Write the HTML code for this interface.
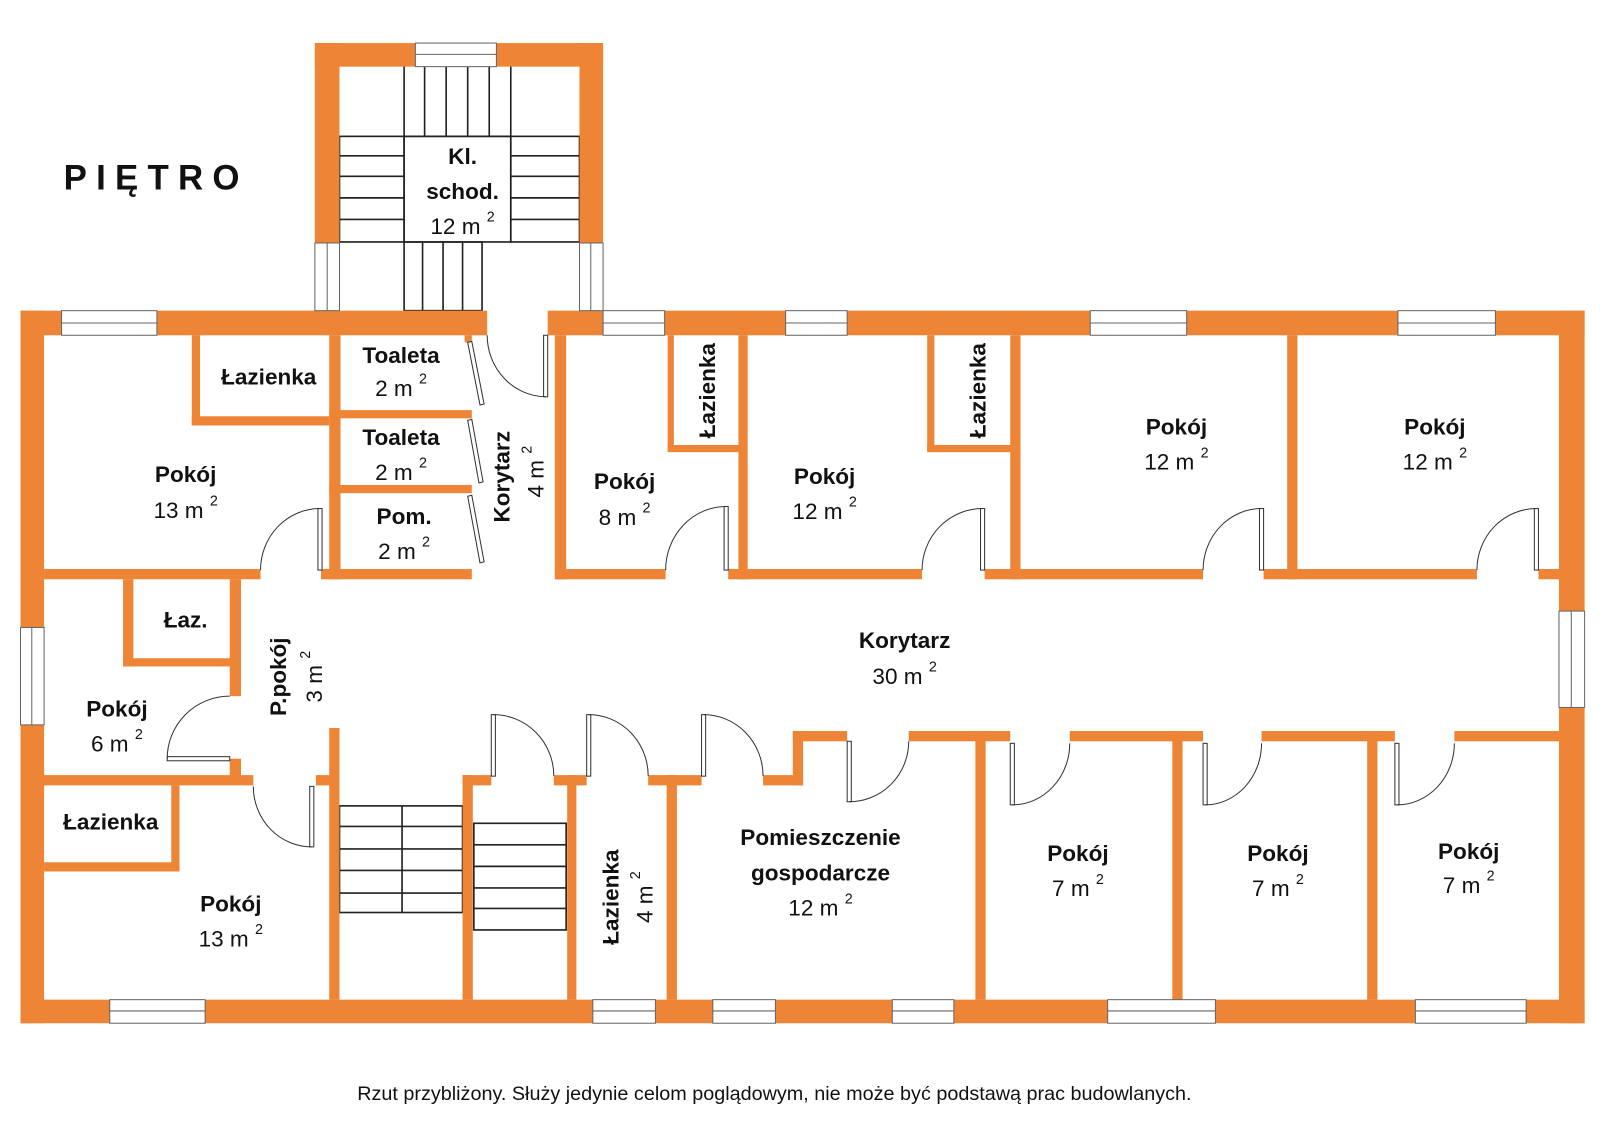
<!DOCTYPE html>
<html><head><meta charset="utf-8"><style>
html,body{margin:0;padding:0;background:#fff;}
svg{display:block;}
text{font-family:"Liberation Sans",Arial,sans-serif;fill:#111;}
.b{font-weight:bold;font-size:22px;}
.r{font-size:22px;}
.s{font-size:14px;}
.w{fill:#EE8435;}
.win{fill:#fff;stroke:#666;stroke-width:1;}
.leaf{fill:#fff;stroke:#333;stroke-width:1;}
.arc{fill:none;stroke:#333;stroke-width:1;}
.st{stroke:#222;stroke-width:1.6;fill:none;}
</style></head><body>
<svg width="1600" height="1135" viewBox="0 0 1560 1107" preserveAspectRatio="none" xmlns="http://www.w3.org/2000/svg">
<rect width="1560" height="1107" fill="#fff"/>
<g class="st">
<rect x="394" y="64" width="104" height="69"/>
<line x1="414" y1="64" x2="414" y2="133"/><line x1="435" y1="64" x2="435" y2="133"/><line x1="456" y1="64" x2="456" y2="133"/><line x1="477" y1="64" x2="477" y2="133"/>
<rect x="394" y="133" width="104" height="103"/>
<rect x="331" y="133" width="63" height="103"/>
<line x1="331" y1="152" x2="394" y2="152"/><line x1="331" y1="172" x2="394" y2="172"/><line x1="331" y1="193" x2="394" y2="193"/><line x1="331" y1="214" x2="394" y2="214"/>
<rect x="498" y="133" width="67" height="103"/>
<line x1="498" y1="152" x2="565" y2="152"/><line x1="498" y1="172" x2="565" y2="172"/><line x1="498" y1="193" x2="565" y2="193"/><line x1="498" y1="214" x2="565" y2="214"/>
<rect x="394" y="236" width="76" height="67"/>
<line x1="412" y1="236" x2="412" y2="303"/><line x1="432" y1="236" x2="432" y2="303"/><line x1="451" y1="236" x2="451" y2="303"/>
<rect x="331" y="786" width="120" height="104"/>
<line x1="392" y1="786" x2="392" y2="890"/>
<line x1="331" y1="806" x2="451" y2="806"/><line x1="331" y1="828" x2="451" y2="828"/><line x1="331" y1="849" x2="451" y2="849"/><line x1="331" y1="871" x2="451" y2="871"/>
<rect x="462" y="803" width="90" height="104"/>
<line x1="462" y1="824" x2="552" y2="824"/><line x1="462" y1="845" x2="552" y2="845"/><line x1="462" y1="866" x2="552" y2="866"/><line x1="462" y1="886" x2="552" y2="886"/>
</g>
<g class="w">
<rect x="307" y="42" width="24" height="195"/><rect x="565" y="42" width="23" height="195"/><rect x="307" y="42" width="281" height="23"/>
<rect x="20" y="303" width="455" height="24"/><rect x="534" y="303" width="1011" height="24"/>
<rect x="20" y="303" width="23" height="695"/><rect x="1520" y="303" width="25" height="695"/>
<rect x="20" y="975" width="1525" height="23"/>
<rect x="187" y="327" width="8" height="88"/><rect x="187" y="406" width="134" height="9"/>
<rect x="321" y="327" width="11" height="238"/>
<rect x="43" y="555" width="211" height="10"/><rect x="313" y="555" width="147" height="10"/>
<rect x="321" y="400" width="139" height="8"/><rect x="321" y="473" width="139" height="8"/>
<rect x="453" y="327" width="7" height="7"/>
<rect x="541" y="327" width="11" height="238"/>
<rect x="541" y="555" width="108" height="10"/><rect x="710" y="555" width="189" height="10"/><rect x="960" y="555" width="213" height="10"/><rect x="1232" y="555" width="208" height="10"/><rect x="1500" y="555" width="20" height="10"/>
<rect x="720" y="327" width="9" height="238"/>
<rect x="651" y="327" width="6" height="113"/><rect x="651" y="434" width="75" height="7"/>
<rect x="904" y="327" width="7" height="113"/><rect x="904" y="434" width="85" height="7"/>
<rect x="985" y="327" width="10" height="238"/>
<rect x="1255" y="327" width="10" height="238"/>
<rect x="120" y="565" width="10" height="85"/><rect x="120" y="642" width="112" height="8"/>
<rect x="224" y="565" width="11" height="114"/><rect x="224" y="740" width="11" height="25"/>
<rect x="20" y="756" width="227" height="10"/><rect x="308" y="756" width="23" height="10"/>
<rect x="167" y="766" width="8" height="84"/><rect x="43" y="841" width="132" height="9"/>
<rect x="321" y="710" width="10" height="265"/>
<rect x="451" y="756" width="10" height="219"/><rect x="451" y="756" width="28" height="10"/>
<rect x="540" y="756" width="32" height="10"/>
<rect x="553" y="756" width="9" height="219"/><rect x="650" y="756" width="10" height="219"/>
<rect x="632" y="756" width="52" height="10"/>
<rect x="744" y="756" width="39" height="10"/><rect x="773" y="713" width="10" height="53"/><rect x="773" y="713" width="53" height="10"/>
<rect x="886" y="713" width="99" height="10"/><rect x="1043" y="713" width="130" height="10"/><rect x="1230" y="713" width="130" height="10"/><rect x="1418" y="713" width="102" height="10"/>
<rect x="951" y="713" width="10" height="262"/><rect x="1143" y="713" width="10" height="262"/><rect x="1333" y="713" width="10" height="262"/>
</g>
<g>
<rect class="win" x="405" y="42" width="79" height="23"/><line x1="405" y1="53" x2="484" y2="53" stroke="#666"/>
<rect class="win" x="307" y="237" width="24" height="66"/><line x1="319" y1="237" x2="319" y2="303" stroke="#666"/>
<rect class="win" x="565" y="237" width="23" height="66"/><line x1="576" y1="237" x2="576" y2="303" stroke="#666"/>
<rect class="win" x="60" y="303" width="93" height="24"/><line x1="60" y1="315" x2="153" y2="315" stroke="#666"/>
<rect class="win" x="588" y="303" width="60" height="24"/><line x1="588" y1="315" x2="648" y2="315" stroke="#666"/>
<rect class="win" x="766" y="303" width="60" height="24"/><line x1="766" y1="315" x2="826" y2="315" stroke="#666"/>
<rect class="win" x="1063" y="303" width="94" height="24"/><line x1="1063" y1="315" x2="1157" y2="315" stroke="#666"/>
<rect class="win" x="1363" y="303" width="95" height="24"/><line x1="1363" y1="315" x2="1458" y2="315" stroke="#666"/>
<rect class="win" x="107" y="975" width="93" height="23"/><line x1="107" y1="986" x2="200" y2="986" stroke="#666"/>
<rect class="win" x="578" y="975" width="61" height="23"/><line x1="578" y1="986" x2="639" y2="986" stroke="#666"/>
<rect class="win" x="695" y="975" width="61" height="23"/><line x1="695" y1="986" x2="756" y2="986" stroke="#666"/>
<rect class="win" x="870" y="975" width="60" height="23"/><line x1="870" y1="986" x2="930" y2="986" stroke="#666"/>
<rect class="win" x="1080" y="975" width="105" height="23"/><line x1="1080" y1="986" x2="1185" y2="986" stroke="#666"/>
<rect class="win" x="1380" y="975" width="108" height="23"/><line x1="1380" y1="986" x2="1488" y2="986" stroke="#666"/>
<rect class="win" x="20" y="612" width="23" height="95"/><line x1="31" y1="612" x2="31" y2="707" stroke="#666"/>
<rect class="win" x="1520" y="596" width="25" height="94"/><line x1="1532" y1="596" x2="1532" y2="690" stroke="#666"/>
</g>
<g>
<rect class="leaf" x="530" y="327" width="4" height="60"/><path class="arc" d="M532,387 A58,60 0 0 1 475,327"/>
<rect class="leaf" x="310" y="496" width="4" height="60"/><path class="arc" d="M312,496 A58,60 0 0 0 254,556"/>
<rect class="leaf" x="706" y="494" width="4" height="62"/><path class="arc" d="M708,494 A59,62 0 0 0 649,556"/>
<rect class="leaf" x="956" y="496" width="4" height="60"/><path class="arc" d="M958,496 A59,60 0 0 0 899,556"/>
<rect class="leaf" x="1228" y="496" width="4" height="60"/><path class="arc" d="M1230,496 A57,60 0 0 0 1173,556"/>
<rect class="leaf" x="1496" y="496" width="4" height="60"/><path class="arc" d="M1498,496 A58,60 0 0 0 1440,556"/>
<rect class="leaf" x="163" y="738" width="61" height="4"/><path class="arc" d="M163,740 A61,61 0 0 1 224,679"/>
<rect class="leaf" x="302" y="767" width="4" height="59"/><path class="arc" d="M247,767 A57,59 0 0 0 304,826"/>
<rect class="leaf" x="479" y="697" width="4" height="60"/><path class="arc" d="M481,697 A59,60 0 0 1 540,757"/>
<rect class="leaf" x="572" y="697" width="4" height="60"/><path class="arc" d="M574,697 A58,60 0 0 1 632,757"/>
<rect class="leaf" x="684" y="697" width="4" height="60"/><path class="arc" d="M686,697 A58,60 0 0 1 744,757"/>
<rect class="leaf" x="826" y="723" width="4" height="59"/><path class="arc" d="M828,782 A58,59 0 0 0 886,723"/>
<rect class="leaf" x="985" y="725" width="4" height="60"/><path class="arc" d="M987,785 A56,60 0 0 0 1043,725"/>
<rect class="leaf" x="1173" y="725" width="4" height="60"/><path class="arc" d="M1175,785 A55,60 0 0 0 1230,725"/>
<rect class="leaf" x="1360" y="725" width="4" height="60"/><path class="arc" d="M1362,785 A56,60 0 0 0 1418,725"/>
<polygon class="leaf" points="456,334 460,333 472,394 468,395"/>
<polygon class="leaf" points="456,410 460,409 471,470 467,471"/>
<polygon class="leaf" points="456,484 460,483 472,548 468,549"/>
</g>
<text x="62" y="185" style="font-weight:bold;font-size:34px;letter-spacing:9px">PIĘTRO</text>
<g text-anchor="middle">
<text class="b" x="451" y="160">Kl.</text><text class="b" x="451" y="194">schod.</text>
<text class="r" x="451" y="228">12 m <tspan class="s" dy="-12">2</tspan></text>
<text class="b" x="262" y="375">Łazienka</text>
<text class="b" x="391" y="354">Toaleta</text><text class="r" x="391" y="386">2 m <tspan class="s" dy="-12">2</tspan></text>
<text class="b" x="391" y="434">Toaleta</text><text class="r" x="391" y="468">2 m <tspan class="s" dy="-12">2</tspan></text>
<text class="b" x="394" y="511">Pom.</text><text class="r" x="394" y="545">2 m <tspan class="s" dy="-12">2</tspan></text>
<text class="b" transform="translate(497,465) rotate(-90)">Korytarz</text>
<text class="r" transform="translate(530,460) rotate(-90)">4 m <tspan class="s" dy="-12">2</tspan></text>
<text class="b" x="181" y="470">Pokój</text><text class="r" x="181" y="505">13 m <tspan class="s" dy="-12">2</tspan></text>
<text class="b" x="609" y="477">Pokój</text><text class="r" x="609" y="512">8 m <tspan class="s" dy="-12">2</tspan></text>
<text class="b" transform="translate(697,381) rotate(-90)">Łazienka</text>
<text class="b" x="804" y="472">Pokój</text><text class="r" x="804" y="506">12 m <tspan class="s" dy="-12">2</tspan></text>
<text class="b" transform="translate(961,381) rotate(-90)">Łazienka</text>
<text class="b" x="1147" y="424">Pokój</text><text class="r" x="1147" y="458">12 m <tspan class="s" dy="-12">2</tspan></text>
<text class="b" x="1399" y="424">Pokój</text><text class="r" x="1399" y="458">12 m <tspan class="s" dy="-12">2</tspan></text>
<text class="b" x="882" y="632">Korytarz</text><text class="r" x="882" y="667">30 m <tspan class="s" dy="-12">2</tspan></text>
<text class="b" x="181" y="612">Łaz.</text>
<text class="b" transform="translate(279,660) rotate(-90)">P.pokój</text>
<text class="r" transform="translate(314,660) rotate(-90)">3 m <tspan class="s" dy="-12">2</tspan></text>
<text class="b" x="114" y="699">Pokój</text><text class="r" x="114" y="733">6 m <tspan class="s" dy="-12">2</tspan></text>
<text class="b" x="108" y="809">Łazienka</text>
<text class="b" x="225" y="889">Pokój</text><text class="r" x="225" y="923">13 m <tspan class="s" dy="-12">2</tspan></text>
<text class="b" transform="translate(603,875) rotate(-90)">Łazienka</text>
<text class="r" transform="translate(636,875) rotate(-90)">4 m <tspan class="s" dy="-12">2</tspan></text>
<text class="b" x="800" y="824">Pomieszczenie</text><text class="b" x="800" y="859">gospodarcze</text>
<text class="r" x="800" y="893">12 m <tspan class="s" dy="-12">2</tspan></text>
<text class="b" x="1051" y="840">Pokój</text><text class="r" x="1051" y="874">7 m <tspan class="s" dy="-12">2</tspan></text>
<text class="b" x="1246" y="840">Pokój</text><text class="r" x="1246" y="874">7 m <tspan class="s" dy="-12">2</tspan></text>
<text class="b" x="1432" y="838">Pokój</text><text class="r" x="1432" y="871">7 m <tspan class="s" dy="-12">2</tspan></text>
<text x="755" y="1073" style="font-size:19.3px">Rzut przybliżony. Służy jedynie celom poglądowym, nie może być podstawą prac budowlanych.</text>
</g>
</svg>
</body></html>
